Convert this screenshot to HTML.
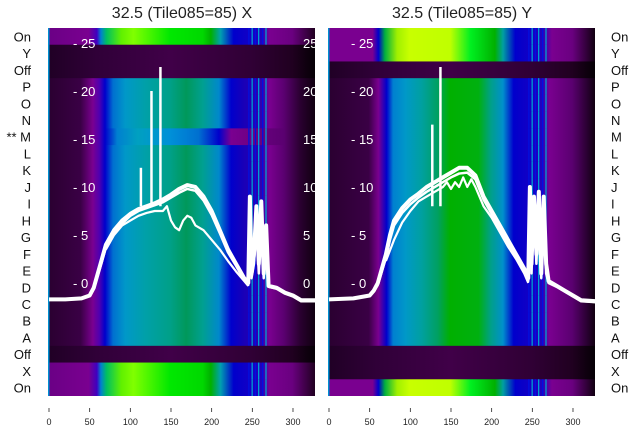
<!DOCTYPE html>
<html><head><meta charset="utf-8"><style>
body{margin:0;background:#fff;}
svg text{font-family:"Liberation Sans","DejaVu Sans",sans-serif;}
</style></head><body>
<svg id="chart" width="640" height="440" xmlns="http://www.w3.org/2000/svg">
<defs id="defs"></defs>
<text x="182" y="18" text-anchor="middle" font-size="16" fill="#222">32.5 (Tile085=85) X</text>
<text x="462" y="18" text-anchor="middle" font-size="16" fill="#222">32.5 (Tile085=85) Y</text>
<g id="left"></g>
<g id="right"></g>
</svg>
<script>
const rowLabels=["On","Y","Off","P","O","N","M","L","K","J","I","H","G","F","E","D","C","B","A","Off","X","On"];
const leftRowTypes=["bright","dark","dark","sig","sig","sig","blue","sig","sig","sig","sig","sig","sig","sig","sig","sig","sig","sig","sig","dark","bright","bright"];
const rightRowTypes=["bright","bright","dark","sig","sig","sig","sig","sig","sig","sig","sig","sig","sig","sig","sig","sig","sig","sig","sig","dark","dark","bright"];
const xTicks=[0,50,100,150,200,250,300];
const yTicks=[0,5,10,15,20,25];
const lX=[0,20,40,50,55,60,65,70,80,90,100,110,120,130,140,150,160,170,180,190,200,210,220,230,240,245,247,249,252,255,258,261,264,267,270,280,290,300,310,328];
const lUp=[-1.7,-1.7,-1.6,-1.3,-0.5,1,2.5,4,5.5,6.5,7.2,7.7,8,8.3,8.7,9.2,9.8,10.2,10,9,7.5,5.5,3.5,2,0.5,0,9,1,3,8,2,8.5,1,6,-0.3,-0.5,-1,-1.3,-1.8,-1.8];
const lMid=[-1.7,-1.7,-1.6,-1.3,-0.6,0.8,2.2,3.7,5.2,6.2,7,7.5,7.8,8.1,8.4,8.9,9.4,9.8,9.6,8.6,7.1,5.2,3.2,1.8,0.3,-0.2,7,0.5,2,6,1,7,0.5,5,-0.4,-0.6,-1.1,-1.4,-1.9,-1.9];
const lDipX=[70,80,90,100,110,120,130,140,145,150,155,160,165,170,175,180,190,200,210,220,230,240,245];
const lDip=[3.5,5,6,6.5,7,7.3,7.5,7.5,8,6.5,5.8,5.5,6.5,7,6.8,6,5.5,4.5,3.5,2.3,1.2,0.2,-0.3];
const lSpX=[113,126,137];
const lSpY=[12,20,22.5];
const rX=[0,30,50,55,60,65,70,75,80,90,100,110,120,130,140,150,160,170,180,190,200,210,220,230,240,245,247,249,252,255,258,261,264,267,270,280,290,300,310,328];
const rUp=[-1.7,-1.6,-1.3,-0.8,0,1.5,3,5,6.5,7.8,8.7,9.3,10,10.5,11,11.5,12,12,11.2,9,7.5,6,4.5,3,1.5,0.5,10,2,9,3,9.5,1,9,2,0.2,-0.3,-0.8,-1.3,-1.8,-1.9];
const rMid=[-1.7,-1.6,-1.3,-0.9,-0.2,1.2,2.6,4.5,6,7.3,8.2,8.9,9.5,10,10.5,11,11.4,11.5,10.8,8.7,7.2,5.7,4.2,2.7,1.2,0.2,9,1,8,2,8.5,0.5,8,1,0,-0.4,-0.9,-1.4,-1.9,-2];
const rLowX=[70,80,90,100,110,120,130,140,145,150,155,160,165,170,175,180,190,200,210,220,230,240,245];
const rLow=[2.3,4.5,6.3,7.5,8.5,9,9.5,10,10.5,9.8,10.5,10,11,10,10.8,10,8,6.8,5.3,3.8,2.5,1,0];
const rSpX=[127,137];
const rSpY=[16.5,22.5];

const NS="http://www.w3.org/2000/svg";
const W=267,rowH=(396-28)/22;
function mk(tag,at,parent){const e=document.createElementNS(NS,tag);for(const k in at)e.setAttribute(k,at[k]);parent.appendChild(e);return e;}
const xs=(x0)=>v=>x0+v*0.8133;
const ys=v=>283-v*9.6;
const defs=document.getElementById('defs');
const grads={
 lsig:[[0,"#2a0030"],[40,"#3a0045"],[55,"#7a0090"],[63,"#5000b0"],[70,"#0000cc"],[80,"#0070d0"],[95,"#0098c8"],[120,"#00a0a8"],[150,"#00a088"],[170,"#00985a"],[190,"#00a090"],[210,"#0088cc"],[225,"#0000cc"],[240,"#1800b8"],[262,"#3000b0"],[272,"#7a0090"],[290,"#5a0070"],[310,"#2a0030"],[328,"#100010"]],
 lblue:[[0,"#2a0030"],[40,"#3a0045"],[55,"#7a0090"],[63,"#5000b0"],[70,"#0000cc"],[85,"#0080d0"],[110,"#00a0c0"],[150,"#0090d8"],[185,"#0070d0"],[210,"#0000cc"],[225,"#7a0090"],[290,"#5a0070"],[310,"#2a0030"],[328,"#100010"]],
 lbright:[[0,"#6a0085"],[50,"#7a0090"],[60,"#4000c0"],[65,"#0080d0"],[72,"#00c060"],[90,"#60f000"],[105,"#80ff00"],[150,"#00e800"],[190,"#00d800"],[200,"#00b000"],[212,"#00a0b0"],[228,"#0000cc"],[262,"#2000c0"],[272,"#7a0090"],[300,"#6a0080"],[328,"#200020"]],
 dark:[[0,"#200025"],[60,"#300038"],[150,"#400048"],[250,"#300035"],[300,"#200020"],[328,"#050005"]],
 rsig:[[0,"#2a0030"],[50,"#3a0045"],[62,"#7a0090"],[72,"#0000cc"],[80,"#0080d0"],[95,"#0098c8"],[115,"#00a0a0"],[135,"#00a060"],[150,"#00b000"],[185,"#00b010"],[200,"#00a088"],[215,"#0090cc"],[228,"#0000cc"],[262,"#2000c0"],[272,"#7a0090"],[300,"#5a0070"],[328,"#100010"]],
 rbright:[[0,"#7a0090"],[55,"#7a0090"],[62,"#0000cc"],[70,"#00b040"],[85,"#a0f000"],[100,"#c8ff00"],[150,"#c0ff00"],[175,"#00f020"],[205,"#00b000"],[215,"#00a0a0"],[230,"#0000cc"],[262,"#2000c0"],[275,"#7a0090"],[300,"#6a0080"],[328,"#100010"]]
};
for(const g in grads){const lg=mk('linearGradient',{id:'g_'+g,x1:0,x2:1,y1:0,y2:0},defs);grads[g].forEach(s=>mk('stop',{offset:(s[0]/328),'stop-color':s[1]},lg));}

function panel(gid,x0,types,series,spikes,left){
 const g=document.getElementById(gid);const X=xs(x0);
 const cp=mk('clipPath',{id:'cp'+gid},defs);mk('rect',{x:x0-1,y:28,width:W,height:368},cp);
 const hm=mk('g',{'clip-path':'url(#cp'+gid+')'},g);
 
 types.forEach((t,i)=>{
  let f=t==='dark'?'dark':(left?(t==='sig'?'lsig':t==='blue'?'lblue':'lbright'):(t==='sig'?'rsig':'rbright'));
  const r=mk('rect',{x:x0-1,y:28+i*rowH,width:W,height:rowH+0.5,fill:'url(#g_'+f+')'},hm);
  
  
  if(t!=='dark'){[245,249,253,257,262,266].forEach((s,j)=>{const st=mk('rect',{x:X(s),y:28+i*rowH,width:1.3,height:rowH+0.5,fill:j%2?'#00a0d0':'#0010e0'},hm);});}
 });
 mk('rect',{x:x0-1,y:28,width:1.5,height:368,fill:'#0090d0'},hm);
 yTicks.forEach(v=>{const t=mk('text',{x:x0+(left?24:22),y:ys(v)+5,fill:'#fff','font-size':13},hm);t.textContent='- '+v;
  
  if(left){const t2=mk('text',{x:x0+254,y:ys(v)+5,fill:'#fff','font-size':13},hm);t2.textContent=v;}
 });
 series.forEach(s=>{const p=mk('polyline',{points:s.x.map((v,i)=>X(v)+','+ys(s.y[i])).join(' '),fill:'none',stroke:'#fff','stroke-width':s.w,'stroke-linejoin':'round'},hm);});
 spikes.x.forEach((v,i)=>{const p=mk('line',{x1:X(v),x2:X(v),y1:ys(8),y2:ys(spikes.y[i]),stroke:'#fff','stroke-width':2.5},hm);});
 xTicks.forEach(v=>{mk('line',{x1:X(v),x2:X(v),y1:408,y2:412,stroke:'#222','stroke-width':0.8},g);const t=mk('text',{x:X(v),y:425,'text-anchor':'middle','font-size':9,fill:'#222'},g);t.textContent=v;});
 rowLabels.forEach((l,i)=>{const t=mk('text',{x:left?31:611,y:28+(i+0.5)*rowH+5,'text-anchor':left?'end':'start','font-size':13,fill:'#111'},g);t.textContent=(left&&l==='M')?'** M':l;});
}
panel('left',49,leftRowTypes,[{x:lX,y:lUp,w:4},{x:lX,y:lMid,w:2.5},{x:lDipX,y:lDip,w:2.2}],{x:lSpX,y:lSpY},true);
panel('right',329,rightRowTypes,[{x:rX,y:rUp,w:4},{x:rX,y:rMid,w:2.5},{x:rLowX,y:rLow,w:2.2}],{x:rSpX,y:rSpY},false);
</script>
</body></html>
